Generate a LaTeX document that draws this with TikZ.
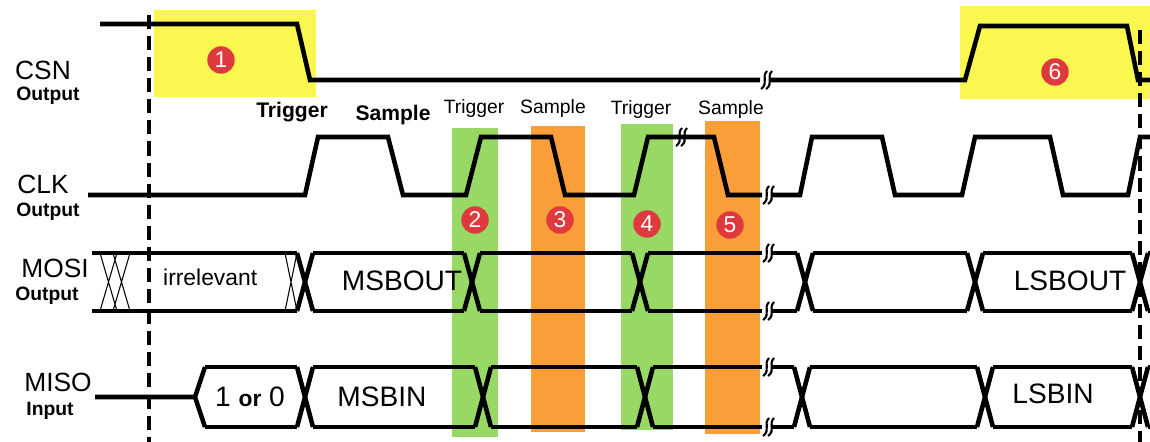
\documentclass[tikz,border=0pt]{standalone}
\usepackage{fontspec}
\setmainfont{Liberation Sans}
\begin{document}
\begin{tikzpicture}[x=0.02cm,y=-0.02cm]

\tikzset{%
  signal/.style   = {line width=2.6pt,line join=miter},
  hatch/.style    = {line width=0.6pt},
  cut/.style      = {line width=1.2pt},
  frame/.style    = {line width=2pt,dash pattern=on 8pt off 4pt},
  badge/.style    = {circle,fill=badgered,text=white,minimum size=0.55cm,inner sep=0pt,font=\fontsize{13}{13}\selectfont},
  signame/.style  = {font=\fontsize{15}{15}\selectfont},
  sigdir/.style   = {font=\fontsize{11}{11}\selectfont\bfseries},
  edgetag/.style  = {fill=white,inner sep=1pt,font=\fontsize{11}{11}\selectfont},
  busdata/.style  = {font=\fontsize{16}{16}\selectfont},
}
\definecolor{hlyellow}{RGB}{250,248,80}
\definecolor{hlgreen}{RGB}{152,216,100}
\definecolor{hlorange}{RGB}{250,158,58}
\definecolor{badgered}{RGB}{222,58,62}

\useasboundingbox (0,0) rectangle (1150,442);

% highlight bands
\fill[hlyellow] (154,10) rectangle (316,97);
\fill[hlyellow] (960,6) rectangle (1150,99);
\fill[hlgreen]  (452,128) rectangle (498,437);
\fill[hlorange] (531,126) rectangle (585,432);
\fill[hlgreen]  (621,124) rectangle (673,430);
\fill[hlorange] (705,100) rectangle (760,434);

% frame markers
\draw[frame] (149,15) -- (149,442);
\draw[frame] (1140,30) -- (1140,442);

% break marks
\newcommand{\brk}[2]{%
  \draw[cut] (#1-4,#2+9) .. controls (#1+4,#2+3) and (#1-4,#2-3) .. (#1+2,#2-9);
  \draw[cut] (#1+1,#2+9) .. controls (#1+9,#2+3) and (#1+1,#2-3) .. (#1+7,#2-9);}
\newcommand{\busx}[3]{%
  \draw[signal] (#1-8,#2) -- (#1+8,#3);
  \draw[signal] (#1-8,#3) -- (#1+8,#2);}

% CSN
\draw[signal] (100,24) -- (297,24) -- (310,80) -- (760,80);
\draw[signal] (770,80) -- (965,80) -- (980,26) -- (1127,26) -- (1138,80) -- (1150,80);
\brk{765}{80}

% CLK
\draw[signal] (88,195) -- (305,195) -- (318,137) -- (388,137) -- (403,195) -- (466,195)
  -- (481,137) -- (551,137) -- (565,195) -- (634,195) -- (648,137) -- (714,137)
  -- (728,195) -- (762,195);
\draw[signal] (772,195) -- (800,195) -- (812,137) -- (882,137) -- (895,195) -- (962,195)
  -- (975,137) -- (1050,137) -- (1063,195) -- (1128,195) -- (1140,137) -- (1150,137);
\brk{680}{137}
\brk{767}{195}

% MOSI
\foreach \t in {305,472,640,805,975,1140} {\busx{\t}{253}{311}}
\foreach \a/\b in {92/297,313/464,480/632,648/762,772/797,813/967,983/1132,1148/1150}
  {\draw[signal] (\a,253) -- (\b,253); \draw[signal] (\a,311) -- (\b,311);}
\draw[hatch] (100,253) -- (117,311) (117,253) -- (100,311)
             (113,253) -- (130,311) (130,253) -- (113,311)
             (285,253) -- (297,311) (297,253) -- (285,311);
\brk{767}{253}
\brk{767}{311}

% MISO
\draw[signal] (95,397) -- (195,397) -- (205,367) (195,397) -- (205,427);
\foreach \t in {305,483,645,802,985,1140} {\busx{\t}{367}{427}}
\foreach \a/\b in {205/297,313/475,491/637,653/762,772/794,810/977,993/1132,1148/1150}
  {\draw[signal] (\a,367) -- (\b,367); \draw[signal] (\a,427) -- (\b,427);}
\brk{767}{367}
\brk{767}{427}

% signal names
\node[signame] (csn)   at (43,70)  {CSN};
\node[sigdir]  (csnd)  at (48,96)  {Output};
\node[signame] (clk)   at (43,184) {CLK};
\node[sigdir]  (clkd)  at (48,212) {Output};
\node[signame] (mosi)  at (55,268) {MOSI};
\node[sigdir]  (mosid) at (47,296) {Output};
\node[signame] (miso)  at (58,382) {MISO};
\node[sigdir]  (misod) at (50,411) {Input};

% edge tags
\node[sigdir,font=\fontsize{12}{12}\selectfont\bfseries] (trg0) at (292,112) {Trigger};
\node[sigdir,font=\fontsize{12}{12}\selectfont\bfseries] (smp0) at (393,115) {Sample};
\node[edgetag] (trg1) at (474,109) {Trigger};
\node[edgetag] (smp1) at (553,109) {Sample};
\node[edgetag] (trg2) at (641,110) {Trigger};
\node[edgetag] (smp2) at (731,110) {Sample};

% data
\node[anchor=west,font=\fontsize{13}{13}\selectfont] (irr) at (157,277) {irrelevant};
\node[busdata] (msbo) at (402,281) {MSBOUT};
\node[busdata] (lsbo) at (1070,281) {LSBOUT};
\node[busdata] (bit)  at (250,397) {1 {\fontsize{13}{13}\selectfont\bfseries or} 0};
\node[busdata] (msbi) at (382,397) {MSBIN};
\node[busdata] (lsbi) at (1053,394) {LSBIN};

% steps
\node[badge] (s1) at (221,60)  {1};
\node[badge] (s2) at (475,220) {2};
\node[badge] (s3) at (560,220) {3};
\node[badge] (s4) at (647,224) {4};
\node[badge] (s5) at (730,225) {5};
\node[badge] (s6) at (1055,72) {6};

\end{tikzpicture}
\end{document}
